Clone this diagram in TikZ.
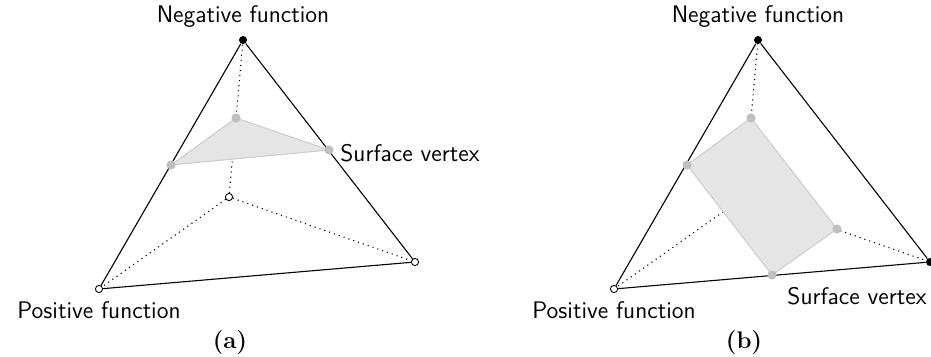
\documentclass[tikz,border=0pt]{standalone}
\usetikzlibrary{positioning,backgrounds}

\begin{document}
\begin{tikzpicture}[x=0.5pt, y=-0.5pt,
    negdot/.style={circle, fill=black, inner sep=0pt, minimum size=4pt},
    posdot/.style={circle, draw=black, fill=white, line width=0.45pt, inner sep=0pt, minimum size=3.6pt},
    surfdot/.style={circle, fill=gray!50, inner sep=0pt, minimum size=4.6pt},
    solidedge/.style={line width=0.55pt},
    hiddenedge/.style={dotted, line width=0.55pt},
    surfpatch/.style={fill=gray!20, draw=gray!40, line width=0.5pt},
    lbl/.style={font=\sffamily\large, inner sep=1pt},
    sublbl/.style={font=\large\bfseries}
]
\useasboundingbox (0,0) rectangle (931,357);

% (a) one negative vertex
\node[negdot] (atop) at (243,40)  {};
\node[posdot] (abl)  at (99,289)  {};
\node[posdot] (abr)  at (415,262) {};
\node[posdot] (abk)  at (229,197) {};
\node[surfdot] (as1) at (236,118) {};
\node[surfdot] (as2) at (171,165) {};
\node[surfdot] (as3) at (329,150) {};

\begin{scope}[on background layer]
\draw[hiddenedge] (abk) -- (atop);
\draw[hiddenedge] (abk) -- (abl);
\draw[hiddenedge] (abk) -- (abr);
\draw[surfpatch] (as1.center) -- (as2.center) -- (as3.center) -- cycle;
\draw[solidedge] (atop) -- (abl);
\draw[solidedge] (atop) -- (abr);
\draw[solidedge] (abl) -- (abr);
\end{scope}

\node[lbl, above=3pt of atop] (anegl) {Negative function};
\node[lbl, below=3pt of abl] (aposl) {Positive function};
\node[lbl, right=2pt of as3, yshift=-1.5pt] (asurfl) {Surface vertex};
\node[sublbl] (acap) at (230,343) {(a)};

% (b) two negative vertices
\node[negdot] (btop) at (758,40)  {};
\node[posdot] (bbl)  at (614,289) {};
\node[negdot] (bbr)  at (930,262) {};
\coordinate (bbk) at (744,197);
\node[surfdot] (bs1) at (751,118) {};
\node[surfdot] (bs2) at (687,165) {};
\node[surfdot] (bs3) at (772,275) {};
\node[surfdot] (bs4) at (837,229) {};

\begin{scope}[on background layer]
\draw[hiddenedge] (bbk) -- (btop);
\draw[hiddenedge] (bbk) -- (bbl);
\draw[hiddenedge] (bbk) -- (bbr);
\draw[surfpatch] (bs1.center) -- (bs2.center) -- (bs3.center) -- (bs4.center) -- cycle;
\draw[solidedge] (btop) -- (bbl);
\draw[solidedge] (btop) -- (bbr);
\draw[solidedge] (bbl) -- (bbr);
\end{scope}

\node[lbl, above=3pt of btop] (bnegl) {Negative function};
\node[lbl, below=3pt of bbl] (bposl) {Positive function};
\node[lbl] (bsurfl) at (857,296) {Surface vertex};
\node[sublbl] (bcap) at (744,343) {(b)};
\end{tikzpicture}
\end{document}
